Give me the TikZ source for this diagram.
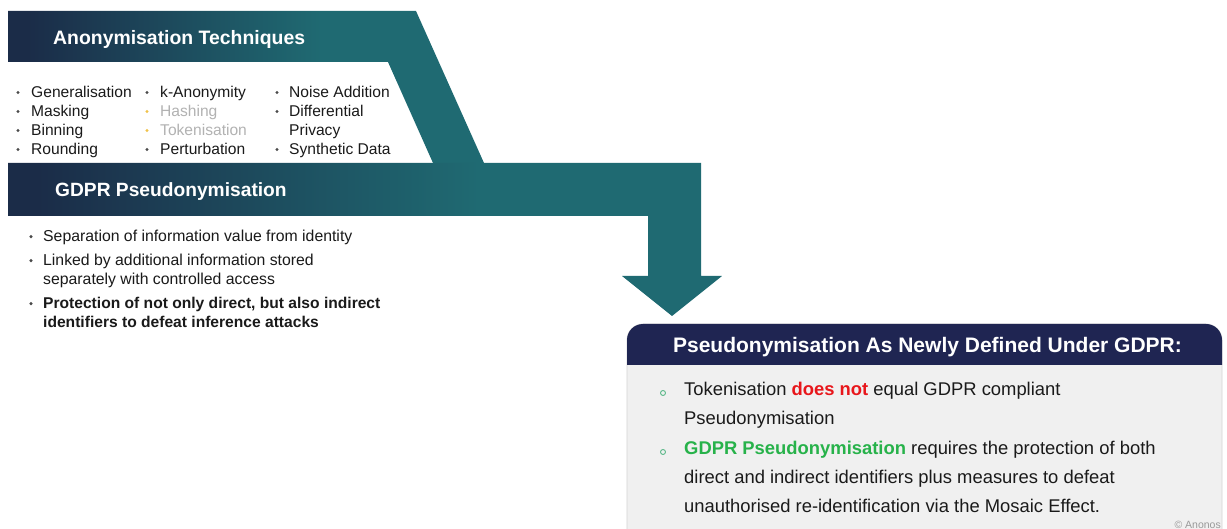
\documentclass[tikz,border=0pt]{standalone}
\usepackage{fontspec}
\setmainfont{Liberation Sans}
\usetikzlibrary{calc}

\definecolor{bandnavy}{HTML}{1B2C48}
\definecolor{bandteal}{HTML}{1F6A72}
\definecolor{boxnavy}{HTML}{1F2552}
\definecolor{boxbody}{HTML}{F0F0F0}
\definecolor{boxedge}{HTML}{D4D4D4}
\definecolor{bulletgray}{HTML}{4A4A4A}
\definecolor{fadedtext}{HTML}{B2B2B2}
\definecolor{fadedbullet}{HTML}{F0C24A}
\definecolor{alertred}{HTML}{E8161B}
\definecolor{okgreen}{HTML}{27B24A}
\definecolor{ringgreen}{HTML}{5DB88A}
\definecolor{bodytext}{HTML}{1A1A1A}

% navy on the left, teal from a little past the middle onwards
\pgfdeclarehorizontalshading{bandshade}{100bp}{color(0bp)=(bandnavy); color(27bp)=(bandnavy); color(58bp)=(bandteal); color(100bp)=(bandteal)}

\tikzset{
  x=1pt, y=-1pt,
  bandtitle/.style={inner sep=0pt, anchor=base west, text=white, font=\bfseries\fontsize{19.4}{22}\selectfont},
  item/.style={inner sep=0pt, anchor=base west, text=bodytext, font=\fontsize{15.6}{18}\selectfont},
  faded/.style={item, text=fadedtext},
  strong/.style={item, font=\bfseries\fontsize{15.6}{18}\selectfont},
  dotb/.style={circle, fill=bulletgray, inner sep=0pt, minimum size=3.4pt},
  dotfaded/.style={dotb, fill=fadedbullet},
  boxtitle/.style={inner sep=0pt, anchor=base, text=white, font=\bfseries\fontsize{21}{24}\selectfont},
  boxline/.style={inner sep=0pt, anchor=base west, text=bodytext, font=\fontsize{18.4}{22}\selectfont},
  ring/.style={circle, draw=ringgreen, line width=0.9pt, inner sep=0pt, minimum size=5pt},
}

\begin{document}
\begin{tikzpicture}
\useasboundingbox (0,0) rectangle (1227,529);
\fill[white] (0,0) rectangle (1227,529);

% upper band with the slanted leg running down to the lower band
\shade[shading=bandshade]
  (8,11) -- (416,11) -- (484,163) -- (433,163) -- (388,62) -- (8,62) -- cycle;

% lower band, bending down into the arrow
\shade[shading=bandshade]
  (8,163) -- (701,163) -- (701,276) -- (722,276) -- (672,316)
  -- (622,276) -- (648,276) -- (648,216) -- (8,216) -- cycle;

\node[bandtitle] (anontitle) at (53,45) {Anonymisation Techniques};
\node[bandtitle, font=\bfseries\fontsize{19.2}{22}\selectfont] (pseudotitle) at (55,197) {GDPR Pseudonymisation};

% technique columns
\foreach \txt [count=\i from 0] in {Generalisation, Masking, Binning, Rounding} {
  \node[dotb] (c1b\i) at (18,97.5+19*\i-5) {};
  \node[item] (c1t\i) at (31,97.5+19*\i) {\txt};
}
\node[dotb] (c2b0) at (147,92.5) {};
\node[item] (c2t0) at (160,97.5) {k-Anonymity};
\node[dotfaded] (c2b1) at (147,111.5) {};
\node[faded] (c2t1) at (160,116.5) {Hashing};
\node[dotfaded] (c2b2) at (147,130.5) {};
\node[faded] (c2t2) at (160,135.5) {Tokenisation};
\node[dotb] (c2b3) at (147,149.5) {};
\node[item] (c2t3) at (160,154.5) {Perturbation};

\node[dotb] (c3b0) at (277,92.5) {};
\node[item] (c3t0) at (289,97.5) {Noise Addition};
\node[dotb] (c3b1) at (277,111.5) {};
\node[item] (c3t1) at (289,116.5) {Differential};
\node[item] (c3t2) at (289,135.5) {Privacy};
\node[dotb] (c3b3) at (277,149.5) {};
\node[item] (c3t3) at (289,154.5) {Synthetic Data};

% pseudonymisation properties
\node[dotb] (p1b) at (31,236.6) {};
\node[item, font=\fontsize{15.8}{18}\selectfont] (p1) at (43,241.6) {Separation of information value from identity};
\node[dotb] (p2b) at (31,260.6) {};
\node[item, font=\fontsize{15.8}{18}\selectfont] (p2a) at (43,265.6) {Linked by additional information stored};
\node[item, font=\fontsize{15.8}{18}\selectfont] (p2b2) at (43,284.6) {separately with controlled access};
\node[dotb] (p3b) at (31,303.6) {};
\node[strong] (p3a) at (43,308.6) {Protection of not only direct, but also indirect};
\node[strong] (p3b2) at (43,327.6) {identifiers to defeat inference attacks};

% definition box
\begin{scope}
\clip (0,0) rectangle (1227,529);
\filldraw[fill=boxbody, draw=boxedge, line width=0.8pt, rounded corners=16pt]
  (627,545) -- (627,324) -- (1222,324) [sharp corners] -- (1222,545);
\fill[boxnavy, rounded corners=16pt]
  (627,365) -- (627,324) -- (1222,324) [sharp corners] -- (1222,365) -- cycle;
\end{scope}

\node[boxtitle] (deftitle) at (927.5,352.5) {Pseudonymisation As Newly Defined Under GDPR:};

\node[ring] (r1) at (663,393) {};
\node[boxline] (d1a) at (684,395.6) {Tokenisation \textbf{\textcolor{alertred}{does not}} equal GDPR compliant};
\node[boxline] (d1b) at (684,424.6) {Pseudonymisation};
\node[ring] (r2) at (663,452) {};
\node[boxline] (d2a) at (684,454.6) {\textbf{\textcolor{okgreen}{GDPR Pseudonymisation}} requires the protection of both};
\node[boxline] (d2b) at (684,483.6) {direct and indirect identifiers plus measures to defeat};
\node[boxline] (d2c) at (684,512.6) {unauthorised re-identification via the Mosaic Effect.};

\node[inner sep=0pt, anchor=base east, text=black!40, font=\fontsize{10.5}{12}\selectfont] (copy) at (1221,528) {© Anonos};
\end{tikzpicture}
\end{document}
